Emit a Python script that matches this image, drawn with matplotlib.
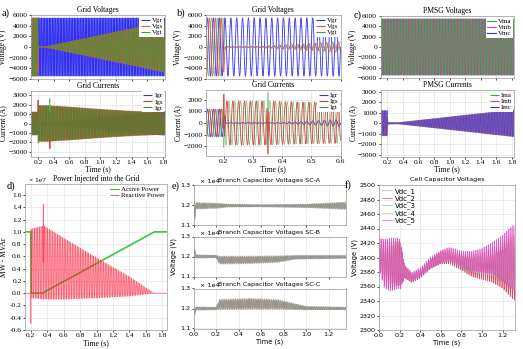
import numpy as np
import matplotlib.pyplot as plt
from matplotlib.collections import LineCollection

#%% Data (envelopes of the waveforms)
W, H = 523, 349
f_grid = 50.0   # Hz

# Grid voltages (V)
gv_t    = [0.10, 0.200, 0.206, 0.30, 1.83]
vgr_amp = [5450, 5450, 5450, 5450, 5450]
vgs_amp = [5450, 5450, 60, 60, 4750]
vgt_amp = [5450, 5450, 60, 60, 4750]

# Grid currents (A)
gi_t    = [0.10, 0.200, 0.208, 0.35, 0.40, 0.60, 1.00, 1.40, 1.83]
igr_amp = [1200, 1200, 30, 30, 40, 300, 650, 950, 1250]
igs_amp = [1200, 1200, 1900, 1900, 1850, 1750, 1500, 1300, 1150]
igt_amp = [1200, 1200, 1900, 1900, 1850, 1750, 1500, 1300, 1150]
spk_t   = [0.201, 0.352]
igs_spk = [2500, -2700]
igt_spk = [-2100, 2700]

# PMSG
pv_t   = [0.10, 1.83]
pv_amp = [5450, 5450]
pi_t   = [0.10, 0.200, 0.206, 0.33, 1.83]
pi_amp = [1200, 1200, 80, 60, 1280]

# Power (x 1e7)
p_t   = [0.13, 0.200, 0.203, 0.34, 1.70, 1.86]
p_val = [1.0, 1.0, 0.0, 0.0, 1.0, 1.0]
q_t   = [0.13, 0.200, 0.203, 0.36, 0.60, 1.00, 1.40, 1.70, 1.86]
q_top = [0.0, 0.0, 1.05, 1.10, 0.90, 0.58, 0.27, 0.0, 0.0]
q_bot = [0.0, 0.0, -0.08, -0.10, -0.10, -0.08, -0.05, 0.0, 0.0]
q_spk = [-0.5, 1.47]

# Branch capacitor voltages (V)
e_titles = ['Branch Capacitor Voltages SC-A', 'Branch Capacitor Voltages SC-B',
            'Branch Capacitor Voltages SC-C']
eA_t    = [0.0, 0.03, 0.2, 0.3, 0.6, 1.0, 1.35]
eA_mean = [12000, 11960, 11960, 11970, 11960, 11955, 11960]
eA_amp  = [120, 150, 120, 70, 50, 80, 170]
eB_t    = [0.0, 0.2, 0.23, 0.5, 0.75, 0.9, 1.35]
eB_mean = [12000, 12000, 11820, 11830, 11870, 11960, 11980]
eB_amp  = [80, 60, 180, 170, 150, 90, 70]
eC_t    = [0.0, 0.2, 0.23, 0.5, 0.75, 1.0, 1.35]
eC_mean = [12000, 12000, 12200, 12230, 12200, 12020, 12000]
eC_amp  = [80, 60, 230, 250, 220, 80, 60]
e_spk   = [(0.012, 11400), (0.012, 12250), (0.012, 11800)]

# Cell capacitor voltages (V)
vdc_names = ['Vdc_1', 'Vdc_2', 'Vdc_3', 'Vdc_4', 'Vdc_5']
f_t      = [0.0, 0.05, 0.10, 0.19, 0.21, 0.25, 0.32, 0.40, 0.50, 0.60, 0.68, 0.80, 0.90, 1.00, 1.10, 1.20, 1.30, 1.35]
f_mean   = [2405, 2392, 2390, 2392, 2390, 2380, 2372, 2378, 2392, 2400, 2402, 2395, 2390, 2390, 2392, 2392, 2390, 2390]
f_amp    = [20, 30, 33, 32, 30, 8, 6, 6, 7, 8, 9, 10, 12, 15, 20, 28, 40, 42]
f_spread = [0, 0, 0, 0, 0, 1, 1, 1, 1, 1, 2, 3, 5, 6, 7, 8, 10, 10]
cell_off = [-0.5, -1.0, 0.0, 0.5, 1.0]
cell_gain = [0.8, 0.95, 0.85, 0.9, 1.1]
vdc_colors = ['#8fbf8f', '#d9304a', '#7fa8d8', '#e8b070', '#e040c8']

#%% helpers
def box(l, r, t, b):
    return [l / W, 1 - b / H, (r - l) / W, (b - t) / H]

def wave(t, tk, ak, ph, f=f_grid):
    return np.interp(t, tk, ak) * np.sin(2 * np.pi * f * t + ph)

def spike(sig, t, t0, peak, w=0.003):
    k = np.interp(t, [t0 - w, t0, t0 + w], [0, 1, 0], left=0, right=0)
    return sig * (1 - k) + peak * k

def dense(ax, t, y, color, lw=0.4, alpha=1.0, label=None):
    # split at turning points so agg does not cancel folded strokes
    d = np.sign(np.diff(y))
    cut = np.where(d[1:] != d[:-1])[0] + 1
    idx = np.concatenate([[0], cut, [len(y) - 1]])
    segs = [np.column_stack([t[a:b + 1], y[a:b + 1]]) for a, b in zip(idx[:-1], idx[1:])]
    lc = LineCollection(segs, colors=color, linewidths=lw, alpha=alpha, label=label)
    ax.add_collection(lc)

def style(ax, fs=5.4):
    ax.tick_params(labelsize=fs, length=1.5, pad=1, width=0.5)
    ax.grid(True, color='#e4e4e4', lw=0.5)
    ax.set_axisbelow(True)
    for s in ax.spines.values():
        s.set_linewidth(0.5)
        s.set_color('#999999')

ph3 = [0, -2 * np.pi / 3, 2 * np.pi / 3]
serif = 'Liberation Serif'
sans = 'DejaVu Sans'
plt.rcParams['font.family'] = serif
FS = 5.5

fig = plt.figure(figsize=(W / 100, H / 100), dpi=100)

def legend(ax, loc='upper right', fs=5.0):
    lg = ax.legend(loc=loc, fontsize=fs, handlelength=1.3, borderpad=0.2,
                   labelspacing=0.05, handletextpad=0.3, borderaxespad=0.1,
                   fancybox=False, framealpha=1)
    lg.get_frame().set_linewidth(0)
    for h in lg.legend_handles:
        h.set_linewidth(0.8)

#%% a) and b) grid signals
blue, red, green = '#3030f0', '#e8504a', '#30a030'
for tl, tr, lbox, ubox, xl, xt in [
        (0.10, 1.83, (31, 165, 15, 79), (31, 165, 90.5, 156.5), (0.11, 1.83), np.arange(0.2, 1.81, 0.2)),
        (0.14, 0.60, (206, 340.5, 15, 79), (206, 340.5, 90, 156), (0.14, 0.60), np.arange(0.2, 0.61, 0.1))]:
    t = np.linspace(tl, tr, 30000)
    lw = 0.8 if tr > 1 else 0.6
    ax = fig.add_axes(box(*lbox))
    dense(ax, t, wave(t, gv_t, vgr_amp, ph3[0]), blue, lw, label='Vgr')
    dense(ax, t, wave(t, gv_t, vgs_amp, ph3[1]), red, lw, label='Vgs')
    dense(ax, t, wave(t, gv_t, vgt_amp, ph3[2]), green, lw * 0.5, label='Vgt')
    ax.set_xlim(*xl)
    ax.set_ylim(-6000, 6000)
    ax.set_yticks(np.arange(-6000, 6001, 2000))
    ax.set_xticks(xt)
    ax.set_xticklabels([])
    ax.set_ylabel('Voltage (V)', fontsize=FS, labelpad=0.5)
    ax.set_title('Grid Voltages', fontsize=FS, pad=2)
    style(ax)
    legend(ax)

    ax = fig.add_axes(box(*ubox))
    igr = wave(t, gi_t, igr_amp, ph3[0])
    igs = wave(t, gi_t, igs_amp, ph3[1])
    igt = wave(t, gi_t, igt_amp, ph3[2])
    for t0, p1, p2 in zip(spk_t, igs_spk, igt_spk):
        igs = spike(igs, t, t0, p1)
        igt = spike(igt, t, t0, p2)
    dense(ax, t, igr, '#3838c8', lw, label='Igr')
    dense(ax, t, igs, '#d83838', lw, label='Igs')
    dense(ax, t, igt, '#2e9a2e', lw * 0.5, label='Igt')
    ax.set_xlim(*xl)
    if tr > 1:
        ax.set_ylim(-3500, 3500)
        ax.set_yticks(np.arange(-3000, 3001, 1000))
    else:
        ax.set_ylim(-2850, 2850)
        ax.set_yticks(np.arange(-2000, 2001, 1000))
    ax.set_xticks(xt)
    ax.set_xticklabels([f'{v:.1f}' for v in xt])
    ax.set_ylabel('Current (A)', fontsize=FS, labelpad=0.5)
    ax.set_xlabel('Time (s)', fontsize=FS, labelpad=0.5)
    ax.set_title('Grid Currents', fontsize=FS, pad=2)
    style(ax)
    legend(ax)

#%% c) PMSG
t = np.linspace(0.10, 1.83, 30000)
xt = np.arange(0.2, 1.81, 0.2)
cg, cp, cb = '#30b030', '#e8408a', '#3030e8'
ax = fig.add_axes(box(380.5, 514, 16, 78))
dense(ax, t, wave(t, pv_t, pv_amp, 0, 52), cb, 0.45)
dense(ax, t, wave(t, pv_t, pv_amp, ph3[1], 52), cp, 0.4)
dense(ax, t, wave(t, pv_t, pv_amp, ph3[2], 52), cg, 0.3)
ax.plot([], [], color=cg, lw=0.8, label='Vma')
ax.plot([], [], color=cp, lw=0.8, label='Vmb')
ax.plot([], [], color=cb, lw=0.8, label='Vmc')
ax.set_xlim(0.11, 1.83)
ax.set_ylim(-6000, 6000)
ax.set_yticks(np.arange(-6000, 6001, 2000))
ax.set_xticks(xt)
ax.set_xticklabels([])
ax.set_ylabel('Voltage (V)', fontsize=FS, labelpad=0.5)
ax.set_title('PMSG Voltages', fontsize=FS, pad=2)
style(ax)
legend(ax)

ax = fig.add_axes(box(380.5, 514, 90, 156.5))
dense(ax, t, wave(t, pi_t, pi_amp, ph3[0]), cg, 0.45, label='Ima')
dense(ax, t, wave(t, pi_t, pi_amp, ph3[1]), cp, 0.4, label='Imb')
dense(ax, t, wave(t, pi_t, pi_amp, ph3[2]), cb, 0.35, label='Imc')
ax.set_xlim(0.11, 1.83)
ax.set_ylim(-3150, 3150)
ax.set_yticks(np.arange(-3000, 3001, 1000))
ax.set_xticks(xt)
ax.set_xticklabels([f'{v:.1f}' for v in xt])
ax.set_ylabel('Current (A)', fontsize=FS, labelpad=0.5)
ax.set_xlabel('Time (s)', fontsize=FS, labelpad=0.5)
ax.set_title('PMSG Currents', fontsize=FS, pad=2)
style(ax)
legend(ax)

#%% d) power
t = np.linspace(0.13, 1.86, 30000)
mid = (np.interp(t, q_t, q_top) + np.interp(t, q_t, q_bot)) / 2
half = (np.interp(t, q_t, q_top) - np.interp(t, q_t, q_bot)) / 2
qq = mid + half * np.sin(2 * np.pi * f_grid * t)
for t0, pk in zip(spk_t, q_spk):
    qq = spike(qq, t, t0, pk, 0.002)
ax = fig.add_axes(box(25, 166.5, 184, 330))
ax.plot(t, np.interp(t, p_t, p_val), color='#33cc33', lw=1.2, label='Active Power')
dense(ax, t, qq, '#ff1a36', 0.5, alpha=0.7, label='Reactive Power')
ax.set_xlim(0.13, 1.85)
ax.set_ylim(-0.6, 1.78)
ax.set_yticks(np.arange(-0.6, 1.61, 0.2))
ax.set_yticklabels([f'{v:.1f}' for v in np.arange(-0.6, 1.61, 0.2)])
ax.set_xticks(np.arange(0.2, 1.81, 0.2))
ax.set_xticklabels([f'{v:.1f}' for v in np.arange(0.2, 1.81, 0.2)])
ax.set_ylabel('MW - MVAr', fontsize=FS, labelpad=1)
ax.set_xlabel('Time (s)', fontsize=FS, labelpad=0.5)
ax.set_title('Power Injected into the Grid', fontsize=FS, pad=2.5)
ax.text(0.03, 1.01, '× 1e7', transform=ax.transAxes, fontsize=5.4, va='bottom')
style(ax)
legend(ax)

#%% e) branch capacitor voltages
SF = 4.6
e_colors = ['#e06666', '#66bb66', '#55c8d8', '#6a6ad8', '#808080', '#c89a66']
t = np.linspace(0.0, 1.36, 20000)
e_data = [(eA_t, eA_mean, eA_amp), (eB_t, eB_mean, eB_amp), (eC_t, eC_mean, eC_amp)]
e_boxes = [(193.5, 345.5, 185, 225), (193.5, 345.5, 236.5, 276.5), (193.5, 345.5, 288.5, 328.5)]
for i, ((tk, mk, ak), bx, ttl) in enumerate(zip(e_data, e_boxes, e_titles)):
    ax = fig.add_axes(box(*bx))
    for k, c in enumerate(e_colors):
        v = np.interp(t, tk, mk) + (0.7 + 0.1 * k) * wave(t, tk, ak, 2 * np.pi * k / 6)
        v = spike(v, t, e_spk[i][0], e_spk[i][1] + 60 * (k - 2.5), 0.008)
        dense(ax, t, v / 1e4, c, 0.4, alpha=0.7)
    ax.set_xlim(0, 1.35)
    ax.set_ylim(1.1, 1.3)
    ax.set_yticks([1.1, 1.2, 1.3])
    ax.set_yticklabels(['1.1', '1.2', '1.3'], family=sans)
    ax.set_xticks(np.arange(0, 1.21, 0.2))
    if i < 2:
        ax.set_xticklabels([])
    else:
        ax.set_xticklabels([f'{v:.1f}' for v in np.arange(0, 1.21, 0.2)], family=sans)
        ax.set_xlabel('Time (s)', fontsize=4.8, labelpad=1, family=sans)
    if i == 1:
        ax.set_ylabel('Voltage (V)', fontsize=4.8, labelpad=2, family=sans)
    ax.set_title(ttl, fontsize=SF, pad=2, family=sans)
    ax.text(0.04, 1.02, '× 1e4', transform=ax.transAxes, fontsize=SF, va='bottom', family=sans)
    style(ax, SF)

#%% f) cell capacitor voltages
t = np.linspace(0.0, 1.36, 20000)
ax = fig.add_axes(box(379, 515, 185, 330))
for k, (nm, c) in enumerate(zip(vdc_names, vdc_colors)):
    v = (np.interp(t, f_t, f_mean) + cell_off[k] * np.interp(t, f_t, f_spread)
         + cell_gain[k] * wave(t, f_t, f_amp, 2 * np.pi * k / 5 * 0.3))
    ax.plot(t, v, color=c, lw=0.5, alpha=0.85, label=nm)
ax.set_xlim(0, 1.32)
ax.set_ylim(2300, 2500)
ax.set_yticks(np.arange(2300, 2501, 20))
ax.set_yticklabels([str(v) for v in np.arange(2300, 2501, 20)], family=sans)
ax.set_xticks(np.arange(0, 1.21, 0.2))
ax.set_xticklabels([f'{v:.1f}' for v in np.arange(0, 1.21, 0.2)], family=sans)
ax.set_xlabel('Time (s)', fontsize=4.8, labelpad=1, family=sans)
ax.set_ylabel('Voltage (V)', fontsize=4.8, labelpad=1, family=sans)
ax.set_title('Cell Capacitor Voltages', fontsize=SF, pad=3, family=sans)
style(ax, SF)
lg = ax.legend(loc='upper left', prop={'family': sans, 'size': 5}, handlelength=1.5,
               borderpad=0.2, labelspacing=0.1, handletextpad=0.4, borderaxespad=0.2,
               frameon=False)

#%% panel letters
for s, x, y in [('a)', 2, 13), ('b)', 177, 13), ('c)', 354, 15), ('d)', 7, 186),
                ('e)', 172, 186), ('f)', 345, 185)]:
    fig.text(x / W, 1 - y / H, s, fontsize=7.5, va='center', ha='left', family=serif)

fig.savefig('out.png', dpi=100)
